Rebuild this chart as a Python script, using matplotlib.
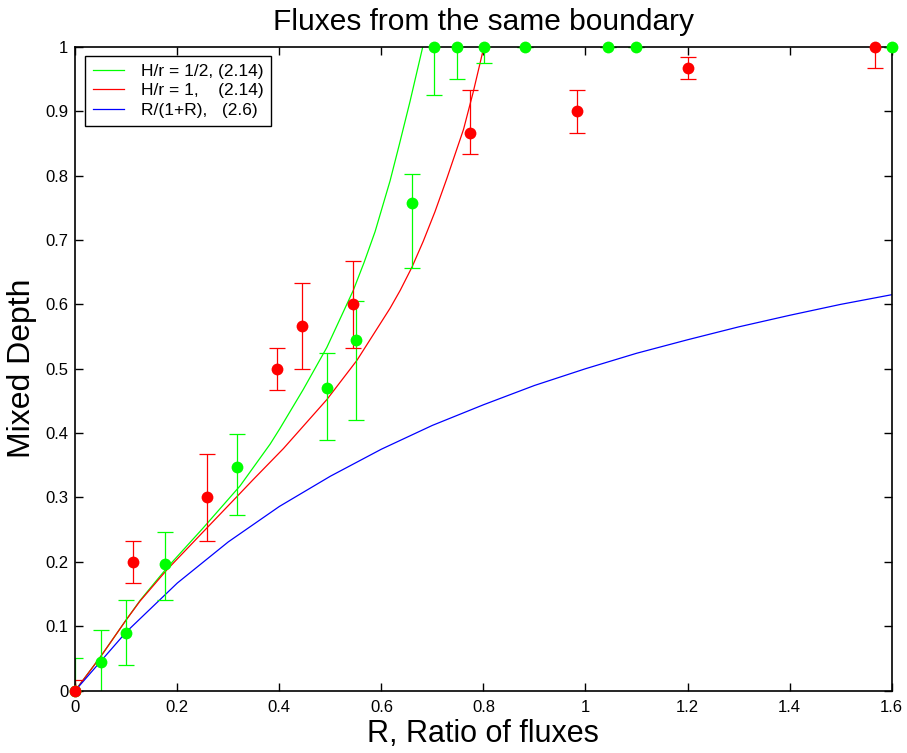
import matplotlib
matplotlib.use("Agg")
import matplotlib.pyplot as plt

plt.rcParams['font.family'] = ['Liberation Sans', 'DejaVu Sans']

# Theory curves
green_curve_R = [0, 0.05, 0.10, 0.127, 0.179, 0.25, 0.323, 0.382, 0.401, 0.447, 0.493, 0.545,
                 0.566, 0.5876, 0.617, 0.635, 0.656, 0.681]
green_curve_D = [0, 0.053, 0.11, 0.14, 0.19, 0.252, 0.318, 0.383, 0.407, 0.468, 0.533, 0.622,
                 0.665, 0.713, 0.792, 0.848, 0.915, 1.0]

red_curve_R = [0, 0.05, 0.10, 0.127, 0.179, 0.25, 0.3165, 0.349, 0.408, 0.493, 0.552, 0.617,
               0.637, 0.66, 0.682, 0.705, 0.728, 0.761, 0.780, 0.800]
red_curve_D = [0, 0.053, 0.11, 0.139, 0.187, 0.246, 0.301, 0.328, 0.376, 0.452, 0.513, 0.594,
               0.622, 0.658, 0.698, 0.744, 0.795, 0.872, 0.930, 0.997]

blue_curve_R = [0, 0.1, 0.2, 0.3, 0.4, 0.5, 0.6, 0.7, 0.8, 0.9, 1.0, 1.1, 1.2, 1.3, 1.4, 1.5, 1.6]
blue_curve_D = [0, 0.091, 0.167, 0.231, 0.286, 0.333, 0.375, 0.412, 0.444, 0.474, 0.5, 0.524,
                0.545, 0.565, 0.583, 0.6, 0.615]

# Experimental points
green_R = [0, 0.05, 0.10, 0.176, 0.316, 0.494, 0.55, 0.66, 0.704, 0.748, 0.801, 0.881, 1.045, 1.10, 1.60]
green_D = [0, 0.045, 0.09, 0.196, 0.348, 0.47, 0.545, 0.757, 1, 1, 1, 1, 1, 1, 1]
green_lo = [0.05, 0.05, 0.05, 0.055, 0.075, 0.081, 0.125, 0.10, 0.075, 0.05, 0.025, 0, 0, 0, 0]
green_hi = [0.05, 0.049, 0.05, 0.05, 0.05, 0.054, 0.06, 0.045, 0.075, 0.05, 0.025, 0, 0, 0, 0]

red_R = [0, 0.113, 0.258, 0.396, 0.444, 0.545, 0.773, 0.984, 1.20, 1.567]
red_D = [0, 0.2, 0.3, 0.5, 0.567, 0.6, 0.867, 0.9, 0.967, 1]
red_lo = [0.017, 0.033, 0.067, 0.033, 0.067, 0.067, 0.033, 0.033, 0.017, 0.033]
red_hi = [0.017, 0.033, 0.067, 0.033, 0.067, 0.067, 0.066, 0.033, 0.017, 0.033]

x_ticks = [0, 0.2, 0.4, 0.6, 0.8, 1.0, 1.2, 1.4, 1.6]
x_tick_labels = ['0', '0.2', '0.4', '0.6', '0.8', '1', '1.2', '1.4', '1.6']
y_ticks = [0, 0.1, 0.2, 0.3, 0.4, 0.5, 0.6, 0.7, 0.8, 0.9, 1.0]
y_tick_labels = ['0', '0.1', '0.2', '0.3', '0.4', '0.5', '0.6', '0.7', '0.8', '0.9', '1']

GREEN = '#00ff00'
RED = '#ff0000'
BLUE = '#0000ff'

fig = plt.figure(figsize=(9.07, 7.53), dpi=100)
ax = fig.add_axes([0.083, 0.083, 0.9, 0.8546])

ax.plot(green_curve_R, green_curve_D, color=GREEN, lw=0.9, label='H/r = 1/2, (2.14)')
ax.plot(red_curve_R, red_curve_D, color=RED, lw=0.9, label='H/r = 1,    (2.14)')
ax.plot(blue_curve_R, blue_curve_D, color=BLUE, lw=0.9, label='R/(1+R),   (2.6)')

ax.errorbar(green_R, green_D, yerr=[green_lo, green_hi], fmt='none', ecolor=GREEN,
            elinewidth=0.9, capsize=6, capthick=0.9)
ax.errorbar(red_R, red_D, yerr=[red_lo, red_hi], fmt='none', ecolor=RED,
            elinewidth=0.9, capsize=6, capthick=0.9)

ax.plot(green_R, green_D, 'o', color=GREEN, ms=8.5, mec='none', clip_on=False, zorder=5)
ax.plot(red_R, red_D, 'o', color=RED, ms=8.5, mec='none', clip_on=False, zorder=6)

ax.set_xlim(0, 1.6)
ax.set_ylim(0, 1)
ax.set_xticks(x_ticks)
ax.set_xticklabels(x_tick_labels)
ax.set_yticks(y_ticks)
ax.set_yticklabels(y_tick_labels)
ax.tick_params(direction='in', length=6, width=1, top=True, right=True, labelsize=12)
ax.tick_params(axis='x', pad=7)
ax.tick_params(axis='y', pad=5)
for s in ax.spines.values():
    s.set_linewidth(1.2)

ax.set_title('Fluxes from the same boundary', fontsize=21.5, pad=12)
ax.set_xlabel('R, Ratio of fluxes', fontsize=22, labelpad=3)
ax.set_ylabel('Mixed Depth', fontsize=23, labelpad=6)

leg = ax.legend(loc='upper left', bbox_to_anchor=(0.012, 0.986), borderaxespad=0,
                fancybox=False, edgecolor='black', framealpha=1, fontsize=12.5,
                handlelength=1.8, handletextpad=0.95, labelspacing=0.25, borderpad=0.45)
leg.get_frame().set_linewidth(1.0)

fig.savefig('out.png', dpi=100)
